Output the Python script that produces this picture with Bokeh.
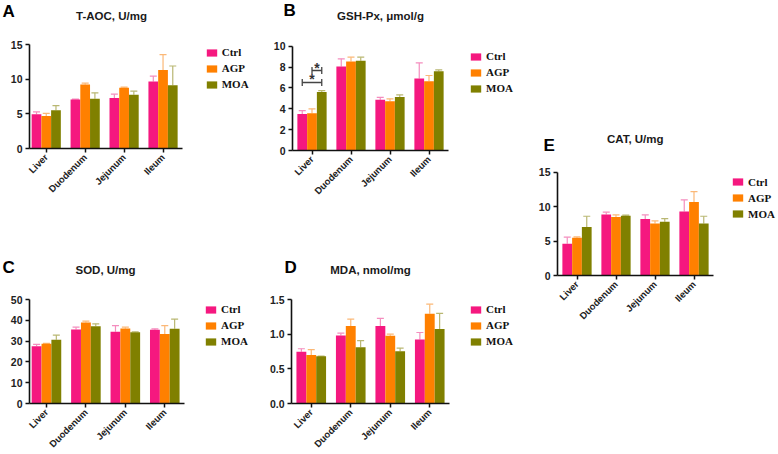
import math
from bokeh.plotting import figure
from bokeh.models import (ColumnDataSource, Range1d, FixedTicker, Whisker, TeeHead,
                          Legend, LegendItem, Label, Spacer, NumeralTickFormatter)
from bokeh.layouts import row, column
from bokeh.embed import file_html
from bokeh.resources import INLINE
from bokeh.core.properties import value

categories = ["Liver", "Duodenum", "Jejunum", "Ileum"]
groups = ["Ctrl", "AGP", "MOA"]

# Panel A: T-AOC, U/mg (mean, SD)
taoc_ctrl = [4.93, 7.06, 7.30, 9.68]
taoc_agp = [4.69, 9.24, 8.76, 11.32]
taoc_moa = [5.52, 7.16, 7.74, 9.14]
taoc_ctrl_sd = [0.34, 0.05, 0.54, 0.77]
taoc_agp_sd = [0.39, 0.19, 0.09, 2.23]
taoc_moa_sd = [0.67, 0.87, 0.53, 2.76]

# Panel B: GSH-Px, umol/g
gsh_ctrl = [3.51, 8.05, 4.86, 6.90]
gsh_agp = [3.58, 8.53, 4.73, 6.65]
gsh_moa = [5.62, 8.60, 5.14, 7.60]
gsh_ctrl_sd = [0.32, 0.74, 0.24, 1.50]
gsh_agp_sd = [0.42, 0.42, 0.22, 0.54]
gsh_moa_sd = [0.13, 0.35, 0.19, 0.13]
sig_pairs = [("Ctrl", "MOA"), ("AGP", "MOA")]
sig_heights = [6.52, 7.67]
sig_marks = ["*", "*"]

# Panel C: SOD, U/mg
sod_ctrl = [27.5, 35.6, 34.5, 35.5]
sod_agp = [28.75, 39.0, 36.1, 33.4]
sod_moa = [30.7, 37.1, 34.2, 35.9]
sod_ctrl_sd = [0.9, 1.1, 2.9, 0.4]
sod_agp_sd = [0.15, 0.6, 0.6, 4.0]
sod_moa_sd = [2.2, 1.2, 0.3, 4.7]

# Panel D: MDA, nmol/mg
mda_ctrl = [0.745, 0.98, 1.117, 0.922]
mda_agp = [0.70, 1.117, 0.976, 1.296]
mda_moa = [0.68, 0.81, 0.752, 1.073]
mda_ctrl_sd = [0.045, 0.035, 0.111, 0.102]
mda_agp_sd = [0.077, 0.101, 0.024, 0.136]
mda_moa_sd = [0.004, 0.098, 0.048, 0.227]

# Panel E: CAT, U/mg
cat_ctrl = [4.60, 8.85, 8.22, 9.29]
cat_agp = [5.47, 8.50, 7.55, 10.69]
cat_moa = [7.06, 8.66, 7.79, 7.55]
cat_ctrl_sd = [0.96, 0.35, 0.58, 1.69]
cat_agp_sd = [0.13, 0.30, 0.38, 1.50]
cat_moa_sd = [1.54, 0.10, 0.48, 1.05]

bar_colors = ["#F5187F", "#FF8000", "#808000"]
err_colors = ["#F48DBE", "#FBB877", "#B9B772"]
offsets = [-0.25, 0.0, 0.25]
bar_w = 0.25
X_END = 4.0

SANS = "Liberation Sans"
SERIF = "Liberation Serif"
LEGEND_H = 47


def make_panel(means, sds, y_end, y_ticks, title, letter, fig_w, fig_h,
               ax_left, ax_bottom, axis_w, axis_h, x_start,
               title_xy, letter_xy, legend_xy, y_fmt="0"):
    # pixel layout -> data ranges so that the frame fills the whole figure
    ppx = axis_w / (X_END - x_start)
    ppy = axis_h / y_end
    xr = Range1d(x_start - ax_left / ppx, x_start + (fig_w - ax_left) / ppx)
    yr = Range1d(-(fig_h - ax_bottom) / ppy, ax_bottom / ppy)
    p = figure(width=fig_w, height=fig_h, x_range=xr, y_range=yr,
               output_backend="svg", toolbar_location=None, min_border=0)
    p.outline_line_color = None
    p.grid.visible = False

    items = []
    for gi, g in enumerate(groups):
        xs = [i + 0.5 + offsets[gi] for i in range(len(categories))]
        uppers = [m + s for m, s in zip(means[gi], sds[gi])]
        src = ColumnDataSource(dict(x=xs, top=means[gi], upper=uppers))
        r = p.vbar(x="x", top="top", bottom=0, width=bar_w, source=src,
                   fill_color=bar_colors[gi], line_color=None)
        items.append(LegendItem(label=g, renderers=[r]))
        p.add_layout(Whisker(source=src, base="x", upper="upper", lower="top",
                             dimension="height", line_color=err_colors[gi], line_width=1.2,
                             upper_head=TeeHead(size=7, line_color=err_colors[gi],
                                                line_width=1.2),
                             lower_head=None))

    lx, ly_top = legend_xy
    legend = Legend(items=items, location=(lx, fig_h - ly_top - LEGEND_H),
                    orientation="vertical",
                    glyph_width=13, glyph_height=9, label_height=15, spacing=1,
                    label_standoff=4, padding=0, margin=0,
                    border_line_color=None, background_fill_alpha=0,
                    label_text_font=SERIF, label_text_font_style="bold",
                    label_text_font_size="11px", label_text_color="#111111")
    p.add_layout(legend)

    for ax in (p.xaxis[0], p.yaxis[0]):
        ax.axis_line_width = 1.6
        ax.axis_line_color = "#111111"
        ax.major_tick_line_width = 1.5
        ax.major_tick_line_color = "#111111"
        ax.major_tick_out = 4
        ax.major_tick_in = 0
        ax.minor_tick_line_color = None
        ax.major_label_standoff = 3
        ax.major_label_text_font = SANS
        ax.major_label_text_font_style = "bold"
        ax.major_label_text_color = "#222222"

    p.yaxis.fixed_location = x_start
    p.yaxis.bounds = (0, y_end)
    p.yaxis.ticker = FixedTicker(ticks=y_ticks)
    p.yaxis.formatter = NumeralTickFormatter(format=y_fmt)
    p.yaxis.major_label_text_font_size = "10.5px"

    p.xaxis.fixed_location = 0
    p.xaxis.bounds = (x_start, X_END)
    p.xaxis.ticker = FixedTicker(ticks=[i + 0.5 for i in range(len(categories))])
    p.xaxis.major_label_overrides = {i + 0.5: c for i, c in enumerate(categories)}
    p.xaxis.major_label_orientation = math.pi / 4
    p.xaxis.major_label_text_font_size = "9.5px"

    p.add_layout(Label(x=title_xy[0], y=fig_h - title_xy[1], x_units="screen", y_units="screen",
                       text=title, text_font=SANS, text_font_style="bold",
                       text_font_size="11.5px", text_color="#1a1a1a",
                       text_align="center", text_baseline="middle"))
    p.add_layout(Label(x=letter_xy[0], y=fig_h - letter_xy[1], x_units="screen", y_units="screen",
                       text=letter, text_font=SANS, text_font_style="bold",
                       text_font_size="17px", text_color="#000000",
                       text_align="left", text_baseline="top"))
    return p


pA = make_panel([taoc_ctrl, taoc_agp, taoc_moa], [taoc_ctrl_sd, taoc_agp_sd, taoc_moa_sd],
                15, [0, 5, 10, 15], "T-AOC, U/mg", "A", 262, 214,
                29, 148, 153, 104, 0.07, (111, 15.7), (2, 1.8), (204.7, 44.5))

pB = make_panel([gsh_ctrl, gsh_agp, gsh_moa], [gsh_ctrl_sd, gsh_agp_sd, gsh_moa_sd],
                10, [0, 2, 4, 6, 8, 10], "GSH-Px, μmol/g", "B", 252, 214,
                30, 150, 156, 104.3, 0.0, (118, 15), (21, 0.8), (207, 48.5))

# significance brackets (Liver group of panel B)
gidx = {g: i for i, g in enumerate(groups)}
br_x0 = [0.5 + offsets[gidx[a]] for a, b in sig_pairs]
br_x1 = [0.5 + offsets[gidx[b]] for a, b in sig_pairs]
br_src = ColumnDataSource(dict(x0=br_x0, x1=br_x1, y=sig_heights,
                               xm=[(a + b) / 2 for a, b in zip(br_x0, br_x1)],
                               t=sig_marks))
pB.add_layout(Whisker(source=br_src, base="y", lower="x0", upper="x1", dimension="width",
                      line_color="#444444", line_width=1.3,
                      upper_head=TeeHead(size=7, line_color="#444444", line_width=1.3),
                      lower_head=TeeHead(size=7, line_color="#444444", line_width=1.3)))
pB.text(x="xm", y="y", text="t", source=br_src, text_align="center",
        text_baseline="alphabetic", y_offset=-3, text_font=value(SANS),
        text_font_style="bold", text_font_size="14px", text_color="#333333")

pC = make_panel([sod_ctrl, sod_agp, sod_moa], [sod_ctrl_sd, sod_agp_sd, sod_moa_sd],
                50, [0, 10, 20, 30, 40, 50], "SOD, U/mg", "C", 262, 238,
                29, 189, 155, 104, 0.07, (105, 55.3), (2, 43.8), (204, 87.5))

pD = make_panel([mda_ctrl, mda_agp, mda_moa], [mda_ctrl_sd, mda_agp_sd, mda_moa_sd],
                1.5, [0, 0.5, 1.0, 1.5], "MDA, nmol/mg", "D", 252, 238,
                29, 189, 158, 104, 0.0, (108, 55), (22, 43.8), (207, 87.5), y_fmt="0.0")

pE = make_panel([cat_ctrl, cat_agp, cat_moa], [cat_ctrl_sd, cat_agp_sd, cat_moa_sd],
                15, [0, 5, 10, 15], "CAT, U/mg", "E", 262, 200,
                43, 149, 156, 103.3, 0.0, (120.7, 12.3), (29, 9.8), (217, 48.2))

left = column(row(pA, pB), row(pC, pD))
right = column(Spacer(width=262, height=126), pE)
layout = row(left, right)

open("out.html", "w").write(file_html(layout, INLINE))
